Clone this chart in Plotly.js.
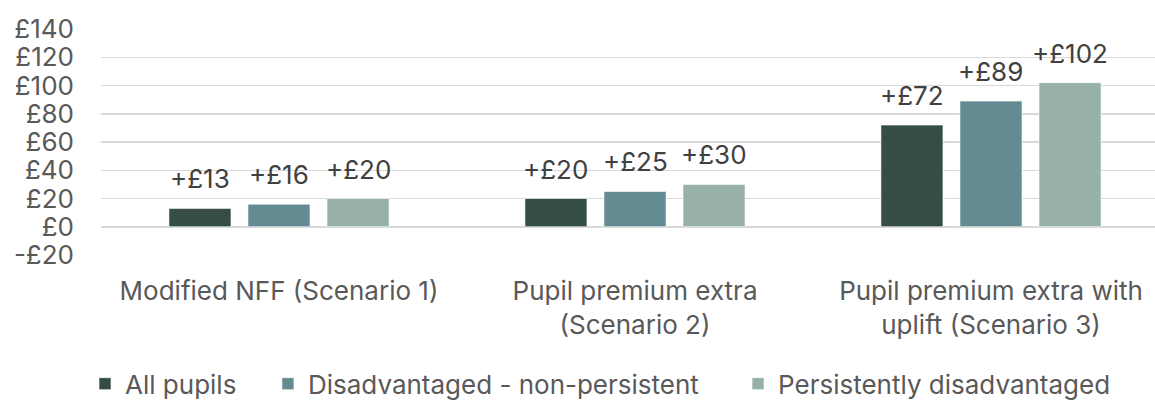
<!DOCTYPE html>
<html>
<head>
<meta charset="utf-8">
<script src="https://cdn.plot.ly/plotly-3.0.1.min.js"></script>
<style>html,body{margin:0;padding:0;background:#fff;}#chart{width:1155px;height:401px;}</style>
</head>
<body>
<div id="chart"></div>
<script>
const categories = ["Modified NFF (Scenario 1)", "Pupil premium extra<br>(Scenario 2)", "Pupil premium extra with<br>uplift (Scenario 3)"];
const seriesNames = ["All pupils", "Disadvantaged - non-persistent", "Persistently disadvantaged"];
const allPupils = [13, 20, 72];
const disadvNonPersistent = [16, 25, 89];
const persistentlyDisadv = [20, 30, 102];
const yTickValues = [-20, 0, 20, 40, 60, 80, 100, 120, 140];
const yTickLabels = ["-£20", "£0", "£20", "£40", "£60", "£80", "£100", "£120", "£140"];
const colors = ["#364D47", "#648B91", "#97B0A9"];

const seriesValues = [allPupils, disadvNonPersistent, persistentlyDisadv];
const FONT = 'Inter, "Open Sans", sans-serif';
const FS = 26;
const bargap = 0.334, bargroupgap = 0.215;
const legendIds = ['legend', 'legend2', 'legend3'];
const legendX = [0.0736, 0.2320, 0.6390];

const traces = seriesValues.map((vals, k) => ({
  type: 'bar',
  name: seriesNames[k],
  x: categories,
  y: vals,
  legend: legendIds[k],
  marker: {color: colors[k], line: {color: 'rgba(255,255,255,0.6)', width: 1}},
  hoverinfo: 'none'
}));

const slot = (1 - bargap) / seriesValues.length;
const annotations = [];
seriesValues.forEach((vals, k) => {
  vals.forEach((v, i) => {
    annotations.push({
      x: i + (k - (seriesValues.length - 1) / 2) * slot,
      y: v,
      xref: 'x', yref: 'y',
      text: '+£' + v,
      showarrow: false,
      yanchor: 'bottom',
      yshift: 12,
      font: {family: FONT, size: FS, color: '#404040'}
    });
  });
});

const layout = {
  width: 1155, height: 401,
  margin: {l: 101, r: 0, t: 29, b: 146},
  paper_bgcolor: '#fff', plot_bgcolor: '#fff',
  font: {family: FONT, size: FS, color: '#595959'},
  barmode: 'group',
  bargap: bargap,
  bargroupgap: bargroupgap,
  showlegend: true,
  xaxis: {
    type: 'category',
    range: [-0.5, 2.4607],
    showgrid: false,
    zeroline: false,
    showline: false,
    ticks: '',
    ticklabelstandoff: 18,
    tickfont: {family: FONT, size: FS, color: '#595959'},
    fixedrange: true
  },
  yaxis: {
    range: [-20, 140],
    tickvals: yTickValues,
    ticktext: yTickLabels,
    showgrid: true,
    gridcolor: '#D9D9D9',
    gridwidth: 1.5,
    zeroline: false,
    showline: false,
    ticks: '',
    ticklabelstandoff: 26,
    tickfont: {family: FONT, size: FS, color: '#595959'},
    fixedrange: true
  },
  annotations: annotations
};
legendIds.forEach((id, k) => {
  layout[id] = {
    orientation: 'h',
    xref: 'container', yref: 'container',
    x: legendX[k], xanchor: 'left',
    y: 0.043, yanchor: 'middle',
    bgcolor: 'rgba(0,0,0,0)',
    font: {family: FONT, size: FS, color: '#595959'}
  };
});

Plotly.newPlot('chart', traces, layout, {staticPlot: true, displayModeBar: false});
</script>
</body>
</html>
